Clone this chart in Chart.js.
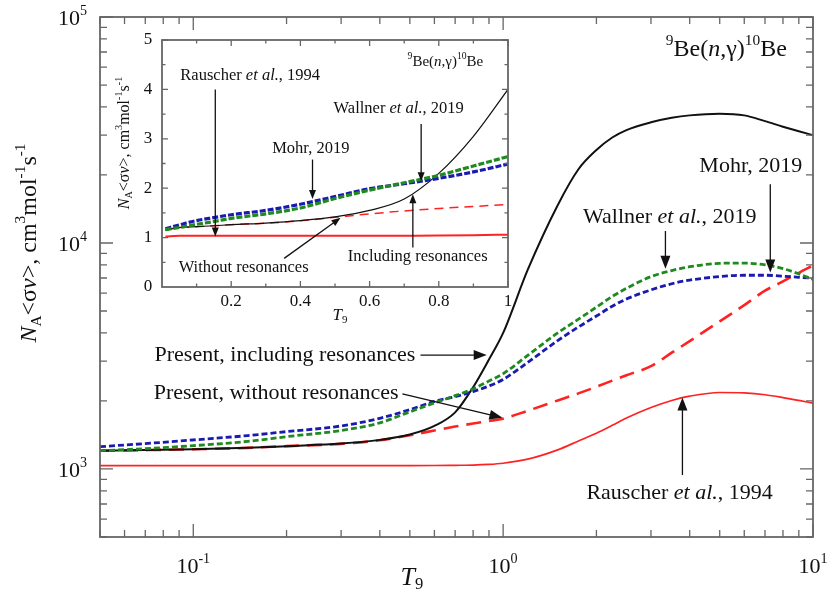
<!DOCTYPE html>
<html>
<head>
<meta charset="utf-8">
<script src="https://cdn.jsdelivr.net/npm/chart.js@4.4.1/dist/chart.umd.min.js"></script>
<style>
  html, body { margin: 0; padding: 0; background: #fff; }
  #wrap { position: relative; width: 828px; height: 599px; }
  #mainChart { position: absolute; left: 0; top: 0; }
  #insetChart { position: absolute; left: 100px; top: 20px; }
</style>
</head>
<body>
<div id="wrap">
  <canvas id="mainChart" width="828" height="599"></canvas>
  <canvas id="insetChart" width="430" height="305"></canvas>
</div>
<script>
// temperatures (T9) shared by every curve
const t9 = [0.01, 0.05, 0.07, 0.1, 0.15, 0.2, 0.3, 0.4, 0.5, 0.6, 0.7, 0.8, 0.9, 1.0,
            1.2, 1.5, 1.75, 2, 2.25, 2.5, 3, 3.5, 4, 5, 6, 7, 8, 9, 10];

// rates, cm3 mol-1 s-1
const presentWithRes = [1150, 1205, 1212, 1222, 1240, 1262, 1295, 1345, 1420, 1550, 1780, 2300, 3050, 4000,
                        7600, 14700, 21200, 25800, 29300, 31600, 34200, 35800, 36700, 37300, 36700, 34600, 32700, 31200, 30000];
const presentNoRes   = [1150, 1205, 1212, 1222, 1240, 1262, 1292, 1340, 1410, 1480, 1540, 1590, 1630, 1670,
                        1810, 2010, 2160, 2310, 2460, 2600, 2850, 3270, 3680, 4500, 5310, 6150, 6760, 7380, 7950];
const wallner2019    = [1160, 1205, 1230, 1268, 1325, 1390, 1480, 1600, 1790, 1960, 2110, 2260, 2450, 2640,
                        3180, 4000, 4600, 5200, 5800, 6300, 7100, 7550, 7850, 8130, 8150, 8000, 7700, 7300, 6900];
const mohr2019       = [1180, 1255, 1295, 1344, 1405, 1463, 1550, 1676, 1830, 1990, 2090, 2200, 2330, 2490,
                        2960, 3700, 4250, 4750, 5250, 5650, 6200, 6600, 6850, 7100, 7200, 7200, 7130, 7050, 6980];
const rauscher1994   = [1020, 1035, 1035, 1035, 1035, 1035, 1035, 1035, 1035, 1036, 1038, 1040, 1047, 1060,
                        1105, 1215, 1330, 1440, 1560, 1680, 1870, 2010, 2100, 2180, 2170, 2130, 2070, 2010, 1955];

// axis ticks
const mainXLabels = [[0.1, '-1'], [1, '0'], [10, '1']];
const mainYLabels = [[1000, '3'], [10000, '4'], [100000, '5']];
const insetXLabels = [0.2, 0.4, 0.6, 0.8, 1];
const insetYLabels = [0, 1, 2, 3, 4, 5];

const SERIF = '"Liberation Serif", "Times New Roman", serif';
const AXIS = '#666';
const RED = '#ff2222';
const GREEN = '#1f8a1f';
const BLUE = '#1a1ab0';

function points(ys, minT, maxT, div) {
  const out = [];
  t9.forEach((t, i) => { if (t >= minT && t <= maxT) out.push({ x: t, y: ys[i] / div }); });
  return out;
}

function richText(ctx, runs, x, y, size, align) {
  const parts = runs.map(([t, f = '']) => {
    const small = f.includes('^') || f.includes('_');
    const s = small ? size * 0.64 : size;
    const font = (f.includes('i') ? 'italic ' : '') + s.toFixed(1) + 'px ' + SERIF;
    ctx.font = font;
    const dy = f.includes('^') ? -size * 0.36 : f.includes('_') ? size * 0.27 : 0;
    return { t, font, dy, w: ctx.measureText(t).width };
  });
  const total = parts.reduce((s, p) => s + p.w, 0);
  let cx = align === 'center' ? x - total / 2 : align === 'right' ? x - total : x;
  ctx.textAlign = 'left';
  ctx.textBaseline = 'middle';
  parts.forEach(p => { ctx.font = p.font; ctx.fillText(p.t, cx, y + p.dy); cx += p.w; });
}

function arrow(ctx, x0, y0, x1, y1, head, half) {
  const a = Math.atan2(y1 - y0, x1 - x0);
  const c = Math.cos(a), s = Math.sin(a);
  ctx.beginPath();
  ctx.moveTo(x0, y0);
  ctx.lineTo(x1 - c * head * 0.8, y1 - s * head * 0.8);
  ctx.stroke();
  ctx.beginPath();
  ctx.moveTo(x1, y1);
  ctx.lineTo(x1 - c * head + s * half, y1 - s * head - c * half);
  ctx.lineTo(x1 - c * head - s * half, y1 - s * head + c * half);
  ctx.closePath();
  ctx.fill();
}

function frameAndTicks(chart, xTicks, yTicks, majorLen, minorLen) {
  const { ctx, chartArea: a, scales: { x, y } } = chart;
  ctx.save();
  ctx.strokeStyle = AXIS;
  ctx.lineWidth = 1.3;
  ctx.beginPath();
  xTicks.forEach(([v, major]) => {
    const px = x.getPixelForValue(v);
    const len = major ? majorLen : minorLen;
    ctx.moveTo(px, a.bottom); ctx.lineTo(px, a.bottom - len);
    ctx.moveTo(px, a.top); ctx.lineTo(px, a.top + len);
  });
  yTicks.forEach(([v, major]) => {
    const py = y.getPixelForValue(v);
    const len = major ? majorLen : minorLen;
    ctx.moveTo(a.left, py); ctx.lineTo(a.left + len, py);
    ctx.moveTo(a.right, py); ctx.lineTo(a.right - len, py);
  });
  ctx.stroke();
  ctx.lineWidth = 1.8;
  ctx.strokeRect(a.left, a.top, a.right - a.left, a.bottom - a.top);
  ctx.restore();
}

function logTicks(min, max) {
  const out = [];
  for (let d = -3; d <= 6; d++) {
    for (let k = 1; k <= 9; k++) {
      const v = k * Math.pow(10, d);
      if (v >= min * 0.999 && v <= max * 1.001) out.push([v, k === 1]);
    }
  }
  return out;
}

// annotations in data coordinates: text centre / anchor, and arrow tail -> tip
const mainNotes = [
  { runs: [['Mohr, 2019']], at: [6.3, 21900], align: 'center', tail: [7.28, 18200], tip: [7.28, 7400] },
  { runs: [['Wallner '], ['et al.', 'i'], [', 2019']], at: [3.45, 13030], align: 'center', tail: [3.34, 11300], tip: [3.34, 7700] },
  { runs: [['Rauscher '], ['et al.', 'i'], [', 1994']], at: [3.71, 783], align: 'center', tail: [3.79, 940], tip: [3.79, 2070] },
  { runs: [['Present, including resonances']], at: [0.521, 3190], align: 'right', tail: [0.541, 3190], tip: [0.885, 3190] },
  { runs: [['Present, without resonances']], at: [0.46, 2170], align: 'right', tail: [0.473, 2150], tip: [0.995, 1685] }
];

const insetNotes = [
  { runs: [['Rauscher '], ['et al.', 'i'], [', 1994']], at: [0.255, 4.28], align: 'center', tail: [0.154, 4.0], tip: [0.154, 1.02] },
  { runs: [['Wallner '], ['et al.', 'i'], [', 2019']], at: [0.684, 3.62], align: 'center', tail: [0.749, 3.3], tip: [0.749, 2.14] },
  { runs: [['Mohr, 2019']], at: [0.43, 2.81], align: 'center', tail: [0.435, 2.58], tip: [0.435, 1.78] },
  { runs: [['Including resonances']], at: [0.739, 0.606], align: 'center', tail: [0.725, 0.8], tip: [0.725, 1.88] },
  { runs: [['Without resonances']], at: [0.236, 0.384], align: 'center', tail: [0.353, 0.58], tip: [0.516, 1.4] }
];

const reaction = [['9', '^'], ['Be('], ['n', 'i'], [',γ)'], ['10', '^'], ['Be']];
const rateTitle = [['N', 'i'], ['A', '_'], ['<σ'], ['v', 'i'], ['>, cm'], ['3', '^'], ['mol'], ['-1', '^'], ['s'], ['-1', '^']];
const tTitle = [['T', 'i'], ['9', '_']];

function drawNotes(chart, notes, size, head, half) {
  const { ctx, scales: { x, y } } = chart;
  ctx.save();
  ctx.fillStyle = '#111';
  ctx.strokeStyle = '#111';
  ctx.lineWidth = 1.3;
  notes.forEach(n => {
    richText(ctx, n.runs, x.getPixelForValue(n.at[0]), y.getPixelForValue(n.at[1]), size, n.align);
    arrow(ctx, x.getPixelForValue(n.tail[0]), y.getPixelForValue(n.tail[1]),
          x.getPixelForValue(n.tip[0]), y.getPixelForValue(n.tip[1]), head, half);
  });
  ctx.restore();
}

function line(label, data, color, width, dash) {
  return {
    label, data, borderColor: color, borderWidth: width, borderDash: dash || [],
    pointRadius: 0, fill: false, cubicInterpolationMode: 'monotone'
  };
}

const mainDecor = {
  id: 'mainDecor',
  afterDraw(chart) {
    const { ctx, chartArea: a, scales: { x, y } } = chart;
    frameAndTicks(chart, logTicks(0.05, 10), logTicks(500, 100000), 13, 7);
    ctx.save();
    ctx.fillStyle = '#111';
    mainXLabels.forEach(([v, e]) => richText(ctx, [['10'], [e, '^']], x.getPixelForValue(v), a.bottom + 30, 22, 'center'));
    mainYLabels.forEach(([v, e]) => richText(ctx, [['10'], [e, '^']], a.left - 13, y.getPixelForValue(v) + 2, 22, 'right'));
    richText(ctx, tTitle, 412, 578, 26, 'center');
    richText(ctx, reaction, x.getPixelForValue(5.25), y.getPixelForValue(71500), 24, 'center');
    ctx.translate(30, 243);
    ctx.rotate(-Math.PI / 2);
    richText(ctx, rateTitle, 0, 0, 24, 'center');
    ctx.restore();
    drawNotes(chart, mainNotes, 22, 13, 5);
  }
};

new Chart(document.getElementById('mainChart'), {
  type: 'line',
  data: {
    datasets: [
      line('Wallner et al., 2019', points(wallner2019, 0.04, 10, 1), GREEN, 2.8, [6, 3]),
      line('Mohr, 2019', points(mohr2019, 0.04, 10, 1), BLUE, 2.8, [6, 3]),
      line('Present, including resonances', points(presentWithRes, 0.04, 10, 1), '#111', 2, []),
      line('Present, without resonances', points(presentNoRes, 0.04, 10, 1), RED, 2.6, [15, 8]),
      line('Rauscher et al., 1994', points(rauscher1994, 0.04, 10, 1), RED, 1.7, [])
    ]
  },
  options: {
    responsive: false,
    animation: false,
    layout: { padding: { left: 100, top: 17, right: 15, bottom: 62 } },
    plugins: { legend: { display: false }, tooltip: { enabled: false } },
    scales: {
      x: { type: 'logarithmic', min: 0.05, max: 10, display: false },
      y: { type: 'logarithmic', min: 500, max: 100000, display: false }
    }
  },
  plugins: [mainDecor]
});

const insetDecor = {
  id: 'insetDecor',
  afterDraw(chart) {
    const { ctx, chartArea: a, scales: { x, y } } = chart;
    const xt = [], yt = [];
    for (let i = 1; i <= 10; i++) xt.push([i / 10, i % 2 === 0]);
    for (let i = 1; i <= 10; i++) yt.push([i / 2, i % 2 === 0]);
    frameAndTicks(chart, xt, yt, 6, 3.5);
    ctx.save();
    ctx.fillStyle = '#111';
    insetXLabels.forEach(v => richText(ctx, [[String(v)]], x.getPixelForValue(v), a.bottom + 15, 17, 'center'));
    insetYLabels.forEach(v => richText(ctx, [[String(v)]], a.left - 14, y.getPixelForValue(v), 17, 'center'));
    richText(ctx, tTitle, 240, 296, 17, 'center');
    richText(ctx, reaction, x.getPixelForValue(0.819), y.getPixelForValue(4.55), 15, 'center');
    ctx.translate(25, 123);
    ctx.rotate(-Math.PI / 2);
    richText(ctx, rateTitle, 0, 0, 16, 'center');
    ctx.restore();
    drawNotes(chart, insetNotes, 16.5, 9, 3.5);
  }
};

new Chart(document.getElementById('insetChart'), {
  type: 'line',
  data: {
    datasets: [
      line('Wallner et al., 2019', points(wallner2019, 0, 1, 1000), GREEN, 3.2, [6, 2]),
      line('Mohr, 2019', points(mohr2019, 0, 1, 1000), BLUE, 3.2, [6, 2]),
      line('Present, including resonances', points(presentWithRes, 0, 1, 1000), '#111', 1.2, []),
      line('Present, without resonances', points(presentNoRes, 0, 1, 1000), RED, 1.5, [9, 6]),
      line('Rauscher et al., 1994', points(rauscher1994, 0, 1, 1000), RED, 2, [])
    ]
  },
  options: {
    responsive: false,
    animation: false,
    layout: { padding: { left: 62, top: 20, right: 22, bottom: 38 } },
    plugins: { legend: { display: false }, tooltip: { enabled: false } },
    scales: {
      x: { type: 'linear', min: 0, max: 1, display: false },
      y: { type: 'linear', min: 0, max: 5, display: false }
    }
  },
  plugins: [insetDecor]
});
</script>
</body>
</html>
